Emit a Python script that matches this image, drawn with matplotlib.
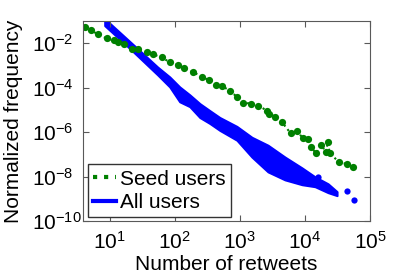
import matplotlib
matplotlib.use('Agg')
import matplotlib.pyplot as plt
from matplotlib.lines import Line2D

plt.rcParams['font.family'] = 'Liberation Sans'
plt.rcParams['mathtext.fontset'] = 'custom'
plt.rcParams['mathtext.rm'] = 'Liberation Sans'
plt.rcParams['mathtext.it'] = 'Liberation Sans:italic'
plt.rcParams['mathtext.bf'] = 'Liberation Sans:bold'

# Seed users (green dotted with dots)
seed_x = [4.12, 5.1, 6.53, 8.99, 11.5, 13.2, 16.6, 21.9, 26.9, 37.2, 45.7, 63.1,
          83.2, 112, 141, 191, 263, 331, 427, 525, 708, 891, 1122, 1479, 1905,
          2630, 2820, 3470, 4470, 6030, 7590, 9330, 11200, 12300, 14800, 17800,
          20900, 22400, 24000, 33100, 44700, 55000]
seed_y = [5.5e-2, 4.07e-2, 2.45e-2, 1.62e-2, 1.32e-2, 1.07e-2, 8.7e-3, 5.25e-3,
          5.25e-3, 3.89e-3, 3.16e-3, 2.29e-3, 1.38e-3, 1.02e-3, 7.6e-4, 5.0e-4,
          3.0e-4, 2.19e-4, 1.32e-4, 1.20e-4, 7.1e-5, 3.89e-5, 2.09e-5, 1.91e-5,
          1.55e-5, 9.1e-6, 6.8e-6, 5.0e-6, 2.69e-6, 8.7e-7, 1.07e-6, 5.2e-7,
          4.8e-7, 2.09e-7, 1.12e-7, 2.57e-7, 1.26e-7, 3.47e-7, 1.12e-7, 4.5e-8,
          3.6e-8, 2.69e-8]

# All users (dense blue band: upper / lower edge) + a few stray points
all_x = [8.4, 20.3, 54.7, 83.7, 119, 170, 243, 345, 492, 899, 1530, 2700,
         4920, 9000, 14250, 22600, 31000]
all_hi = [1.25e-1, 1.19e-2, 8.3e-4, 3.0e-4, 1.07e-4, 4.7e-5, 1.89e-5, 9.2e-6,
          4.5e-6, 1.79e-6, 5.8e-7, 2.56e-7, 7.5e-8, 2.44e-8, 9.7e-9, 4.7e-9, 2.09e-9]
all_lo = [6.1e-2, 5.8e-3, 3.7e-4, 1.07e-4, 2.3e-5, 1.39e-5, 4.5e-6, 2.44e-6,
          1.19e-6, 4.3e-7, 7.5e-8, 1.62e-8, 7.1e-9, 4.3e-9, 3.5e-9, 1.89e-9, 1.39e-9]
stray_x = [15850, 44300, 56700]
stray_y = [9.7e-9, 2.3e-9, 9.2e-10]

xticks = [1e1, 1e2, 1e3, 1e4, 1e5]
yticks = [1e-10, 1e-8, 1e-6, 1e-4, 1e-2]

green = (0, 0.5, 0)
blue = (0, 0, 1)

fig = plt.figure(figsize=(4.09, 2.78), dpi=100)
ax = fig.add_axes([0.203, 0.205, 0.702, 0.72])

ax.plot(seed_x, seed_y, ':', color=green, lw=1.5, marker='o', ms=5.2, mec='none')
ax.fill_between(all_x, all_lo, all_hi, color=blue, lw=1.5, edgecolor=blue)
ax.plot(stray_x, stray_y, 'o', color=blue, ms=4.5, mec='none')

ax.set_xscale('log')
ax.set_yscale('log')
ax.set_xlim(3.9, 1e5)
ax.set_ylim(1e-10, 1e-1)
ax.set_xticks(xticks)
ax.set_yticks(yticks)
ax.yaxis.set_minor_locator(matplotlib.ticker.NullLocator())
ax.set_yticklabels([r'$10^{%d}$' % v for v in [-10, -8, -6, -4, -2]])
ax.set_xticklabels([r'$10^{%d}$' % v for v in [1, 2, 3, 4, 5]])

ax.tick_params(which='both', direction='in', top=True, right=True,
               labelsize=15, color='0.35')
ax.tick_params(which='major', length=4)
ax.tick_params(which='minor', length=2)
ax.tick_params(axis='x', pad=7)
ax.tick_params(axis='y', pad=37)
for lab in ax.get_yticklabels():
    lab.set_horizontalalignment('left')
for sp in ax.spines.values():
    sp.set_color('0.35')

ax.set_xlabel('Number of retweets', fontsize=15, labelpad=2)
ax.set_ylabel('Normalized frequency', fontsize=15)
ax.yaxis.set_label_coords(-0.21, 0.5)

handles = [Line2D([], [], color=green, ls=':', lw=3),
           Line2D([], [], color=blue, ls='-', lw=3)]
ax.legend(handles, ['Seed users', 'All users'], loc='lower left',
          bbox_to_anchor=(0.017, 0.02), borderaxespad=0, fontsize=15,
          handlelength=1.1, handletextpad=0.2, borderpad=0.25, labelspacing=0.2,
          fancybox=False, framealpha=1, edgecolor='0.2')

fig.savefig('out.png', dpi=100)
